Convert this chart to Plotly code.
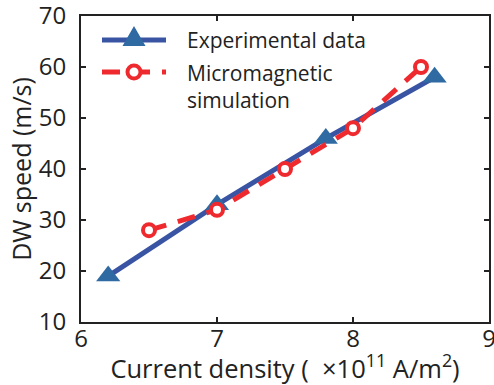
import plotly.graph_objects as go

exp_x = [6.2, 7.0, 7.8, 8.6]
exp_y = [19, 33, 46, 58]
sim_x = [6.5, 7.0, 7.5, 8.0, 8.5]
sim_y = [28, 32, 40, 48, 60]
x_ticks = [6, 7, 8, 9]
y_ticks = [10, 20, 30, 40, 50, 60, 70]
legend_labels = ["Experimental data", "Micromagnetic<br>simulation"]

BLUE_LINE = "#3a54a4"
BLUE_MARK = "#2f6aa3"
RED = "#ee2a2f"
FONT = "Open Sans"

fig = go.Figure()
fig.add_trace(go.Scatter(x=exp_x, y=exp_y, mode="lines+markers",
                         line=dict(color=BLUE_LINE, width=5),
                         marker=dict(symbol="triangle-up", size=21, color=BLUE_MARK),
                         showlegend=False, cliponaxis=False))
fig.add_trace(go.Scatter(x=sim_x, y=sim_y, mode="lines+markers",
                         line=dict(color=RED, width=5, dash="18px,12px"),
                         marker=dict(symbol="circle", size=12, color="white",
                                     line=dict(color=RED, width=4)),
                         showlegend=False, cliponaxis=False))

W, H = 494, 385
L, R, T, B = 81, 5, 16, 63
pw, ph = W - L - R, H - T - B

def px(x):
    return (x - L) / pw

def py(y):
    return (H - B - y) / ph

shapes = []
shapes.append(dict(type="line", xref="paper", yref="paper", x0=px(102), x1=px(166),
                   y0=py(40), y1=py(40), line=dict(color=BLUE_LINE, width=5)))
shapes.append(dict(type="path", xref="paper", yref="paper", xsizemode="pixel", ysizemode="pixel",
                   xanchor=px(134), yanchor=py(39),
                   path="M -11.5 -7 L 11.5 -7 L 0 13 Z",
                   fillcolor=BLUE_MARK, line=dict(width=0)))
shapes.append(dict(type="line", xref="paper", yref="paper", x0=px(102), x1=px(166),
                   y0=py(72), y1=py(72), line=dict(color=RED, width=5, dash="18px,12px")))
shapes.append(dict(type="circle", xref="paper", yref="paper", xsizemode="pixel", ysizemode="pixel",
                   xanchor=px(134), yanchor=py(72), x0=-6.5, x1=6.5, y0=-6.5, y1=6.5,
                   fillcolor="white", line=dict(color=RED, width=4)))

annotations = [
    dict(text=legend_labels[0], xref="paper", yref="paper", x=px(185), y=py(40),
         xanchor="left", yanchor="middle", showarrow=False,
         font=dict(family=FONT, size=21, color="#222")),
    dict(text=legend_labels[1], xref="paper", yref="paper", x=px(185), y=py(72),
         xanchor="left", yanchor="top", showarrow=False, align="left", yshift=15,
         font=dict(family=FONT, size=21, color="#222")),
]

fig.update_layout(
    width=W, height=H, autosize=False,
    margin=dict(l=L, r=R, t=T, b=B, pad=0, autoexpand=False),
    plot_bgcolor="white", paper_bgcolor="white",
    font=dict(family=FONT, color="#222"),
    shapes=shapes, annotations=annotations,
    xaxis=dict(range=[6, 9], tickvals=x_ticks, ticks="inside", ticklen=5, tickwidth=1.5,
               tickcolor="#222", showline=True, linecolor="#222", linewidth=2, mirror="ticks",
               showgrid=False, zeroline=False, tickfont=dict(size=24), automargin=False,
               ticklabelstandoff=-6, ticklabeloverflow="allow",
               title=dict(text="Current density (  ×10<sup>11</sup> A/m<sup>2</sup>)",
                          font=dict(size=25.5), standoff=0)),
    yaxis=dict(range=[10, 70], tickvals=y_ticks, ticks="inside", ticklen=5, tickwidth=1.5,
               tickcolor="#222", showline=True, linecolor="#222", linewidth=2, mirror="ticks",
               showgrid=False, zeroline=False, tickfont=dict(size=24), ticklabelstandoff=8,
               automargin=False, ticklabeloverflow="allow",
               title=dict(text="DW speed (m/s)", font=dict(size=25), standoff=0)),
)

fig.write_html("out.html", config={"displayModeBar": False},
               post_script="document.body.style.margin='0';document.body.style.overflow='hidden';")
